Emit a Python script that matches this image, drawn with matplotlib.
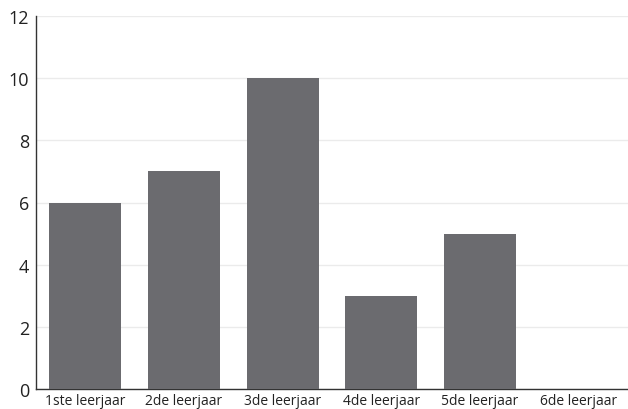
import matplotlib.pyplot as plt
import numpy as np

# Data
categories = ['1ste leerjaar', '2de leerjaar', '3de leerjaar', '4de leerjaar', '5de leerjaar', '6de leerjaar']
values = [6, 7, 10, 3, 5, 0]

plt.rcParams['font.family'] = ['Open Sans', 'DejaVu Sans']

fig = plt.figure(figsize=(6.28, 4.10), dpi=100)
ax = fig.add_axes([36 / 628, 20 / 410, 592 / 628, 373 / 410])

x = np.arange(len(categories))
ax.bar(x, values, width=0.73, color='#6b6b6f', zorder=3)

ax.set_xlim(-0.5, len(categories) - 0.5)
ax.set_ylim(0, 12)
ax.set_yticks(np.arange(0, 13, 2))
ax.set_xticks(x)
ax.set_xticklabels(categories, fontsize=10, color='#222222')
ax.tick_params(axis='y', labelsize=13, colors='#222222', length=0, pad=5)
ax.tick_params(axis='x', length=0, pad=3)

ax.yaxis.grid(True, color='#ebebeb', linewidth=1, zorder=0)
for side in ['top', 'right']:
    ax.spines[side].set_visible(False)
for side in ['left', 'bottom']:
    ax.spines[side].set_color('#333333')
    ax.spines[side].set_linewidth(1)

fig.savefig('out.png', dpi=100)
